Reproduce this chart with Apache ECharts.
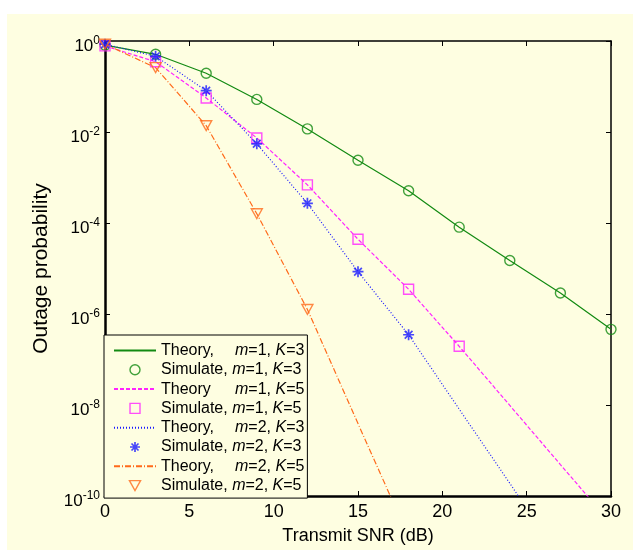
<!DOCTYPE html>
<html>
<head>
<meta charset="utf-8">
<script src="https://cdn.jsdelivr.net/npm/echarts@6/dist/echarts.min.js"></script>
<style>
  html, body { margin: 0; padding: 0; background: #ffffff; }
  #paper { position: absolute; left: 7px; top: 14px; width: 626px; height: 536px; background: #fefee1; }
  #app { position: absolute; left: 0; top: 0; width: 633px; height: 550px; }
</style>
</head>
<body>
<div id="paper"></div>
<div id="app"></div>
<script>
// SNR points (dB)
var snrSim = [0, 3, 6, 9, 12, 15, 18, 21, 24, 27, 30];

// m=1, K=3
var theoryM1K3 = [0.81, 0.51, 0.195, 0.052, 0.0117, 2.4e-3, 5.1e-4, 8.1e-5, 1.5e-5, 2.9e-6, 4.6e-7];
var simM1K3    = [0.81, 0.51, 0.195, 0.052, 0.0117, 2.4e-3, 5.1e-4, 8.1e-5, 1.5e-5, 2.9e-6, 4.6e-7];
// m=1, K=5
var theoryM1K5 = [0.78, 0.35, 0.056, 7.4e-3, 6.9e-4, 4.4e-5, 3.5e-6, 1.95e-7, 9.8e-9, 4.9e-10, 2.5e-11];
var simM1K5    = [0.78, 0.35, 0.056, 7.4e-3, 6.9e-4, 4.4e-5, 3.5e-6, 1.95e-7];
// m=2, K=3
var theoryM2K3 = [0.85, 0.46, 0.081, 5.5e-3, 2.7e-4, 8.5e-6, 3.5e-7, 8.1e-9, 1.9e-10, 4e-12];
var simM2K3    = [0.85, 0.46, 0.081, 5.5e-3, 2.7e-4, 8.5e-6, 3.5e-7];
// m=2, K=5
var theoryM2K5 = [0.85, 0.26, 0.0138, 1.6e-4, 1.26e-6, 3.9e-9, 1.26e-11];
var simM2K5    = [0.85, 0.26, 0.0138, 1.6e-4, 1.26e-6];

var xTicks = [0, 5, 10, 15, 20, 25, 30];

var GREEN = '#128a12', MAGENTA = '#ff22ff', BLUE = '#1a1aff', ORANGE = '#ff6a1a';
var FONT = 'Liberation Sans, Arial, sans-serif';

var ICON_CIRCLE = 'path://M10,5A5,5,0,1,1,0,5A5,5,0,1,1,10,5Z';
var ICON_SQUARE = 'path://M0,0L10,0L10,10L0,10Z';
var ICON_TRI = 'path://M0,0L10,0L5,9Z';
var ICON_STAR = 'path://M5,0L5,10M0,5L10,5M1.5,1.5L8.5,8.5M1.5,8.5L8.5,1.5';

function pairs(xs, ys) {
    return ys.map(function (v, i) { return [xs[i], v]; });
}

var legendText = {
    't13': '{a|Theory,}{i|m}=1, {i|K}=3',
    's13': 'Simulate, {i|m}=1, {i|K}=3',
    't15': '{a|Theory}{i|m}=1, {i|K}=5',
    's15': 'Simulate, {i|m}=1, {i|K}=5',
    't23': '{a|Theory,}{i|m}=2, {i|K}=3',
    's23': 'Simulate, {i|m}=2, {i|K}=3',
    't25': '{a|Theory,}{i|m}=2, {i|K}=5',
    's25': 'Simulate, {i|m}=2, {i|K}=5'
};

function theory(name, data, color, type) {
    return {
        name: name, type: 'line', data: pairs(snrSim, data),
        symbol: 'none', clip: true, z: 2,
        lineStyle: { color: color, width: 1.2, type: type },
        itemStyle: { color: color }
    };
}
function sim(name, data, color, icon, size, bw) {
    return {
        name: name, type: 'scatter', data: pairs(snrSim, data),
        symbol: icon, symbolSize: size, symbolKeepAspect: true, z: 3,
        itemStyle: { color: 'transparent', borderColor: color, borderWidth: bw }
    };
}
function simLegend(name, color, icon, bw) {
    return { name: name, icon: icon,
        itemStyle: { color: 'transparent', borderColor: color, borderWidth: bw } };
}
// theory entries: line only, hide the default legend dot
function theoryLegend(name) {
    return { name: name,
        itemStyle: { color: 'transparent', borderColor: 'transparent', borderWidth: 0 } };
}

var chart = echarts.init(document.getElementById('app'));
var yLabelRich = {
    b: { fontSize: 17, fontFamily: FONT, color: '#000', lineHeight: 17 },
    s: { fontSize: 12, fontFamily: FONT, color: '#000', lineHeight: 12, padding: [0, 0, 12, 0] }
};

chart.setOption({
    backgroundColor: 'transparent',
    animation: false,
    textStyle: { fontFamily: FONT },
    grid: { left: 105, right: 22, top: 41, bottom: 53 },
    legend: {
        orient: 'vertical', left: 104, top: 335,
        padding: [6, 3, 3, 9],
        itemWidth: 42, itemHeight: 10, itemGap: 0.3,
        borderColor: '#000', borderWidth: 1, backgroundColor: '#fefee1',
        selectedMode: false,
        data: [
            theoryLegend('t13'), simLegend('s13', GREEN, ICON_CIRCLE, 1.4),
            theoryLegend('t15'), simLegend('s15', MAGENTA, ICON_SQUARE, 1.4),
            theoryLegend('t23'), simLegend('s23', BLUE, ICON_STAR, 1.7),
            theoryLegend('t25'), simLegend('s25', ORANGE, ICON_TRI, 1.4)
        ],
        formatter: function (name) { return legendText[name]; },
        textStyle: {
            fontSize: 16, fontFamily: FONT, color: '#000', lineHeight: 19,
            rich: {
                a: { fontSize: 16, fontFamily: FONT, color: '#000', width: 74 },
                i: { fontSize: 16, fontFamily: FONT, color: '#000', fontStyle: 'italic' }
            }
        }
    },
    xAxis: [{
        type: 'value', min: 0, max: 30, interval: 5,
        name: 'Transmit SNR (dB)', nameLocation: 'middle', nameGap: 31,
        nameTextStyle: { fontSize: 18, fontFamily: FONT, color: '#000' },
        axisLine: { show: true, onZero: false, lineStyle: { color: '#000', width: 2.5 } },
        axisTick: { inside: true, length: 5, lineStyle: { color: '#000', width: 1 } },
        axisLabel: { fontSize: 18, color: '#000', margin: 7,
            formatter: function (v) { return xTicks.indexOf(v) >= 0 ? String(v) : ''; } },
        splitLine: { show: false }
    }, {
        type: 'value', min: 0, max: 30, interval: 5, position: 'top',
        axisLine: { show: true, onZero: false, lineStyle: { color: '#000', width: 1.5 } },
        axisTick: { inside: true, length: 5, lineStyle: { color: '#000', width: 1 } },
        axisLabel: { show: false }, splitLine: { show: false }
    }],
    yAxis: [{
        type: 'log', logBase: 10, min: 1e-10, max: 1, interval: 2,
        name: 'Outage probability', nameLocation: 'middle', nameGap: 53,
        nameTextStyle: { fontSize: 21, fontFamily: FONT, color: '#000' },
        axisLine: { show: true, onZero: false, lineStyle: { color: '#000', width: 2.5 } },
        axisTick: { inside: true, length: 5, lineStyle: { color: '#000', width: 1 } },
        axisLabel: {
            margin: 5, padding: [11, 0, 0, 0],
            formatter: function (v) {
                var e = Math.round(Math.log10(v));
                return '{b|10}{s|' + e + '}';
            },
            rich: yLabelRich
        },
        splitLine: { show: false }
    }, {
        type: 'log', logBase: 10, min: 1e-10, max: 1, interval: 2, position: 'right',
        axisLine: { show: true, onZero: false, lineStyle: { color: '#000', width: 1.5 } },
        axisTick: { inside: true, length: 5, lineStyle: { color: '#000', width: 1 } },
        axisLabel: { show: false }, splitLine: { show: false }
    }],
    series: [
        theory('t13', theoryM1K3, GREEN, 'solid'),
        sim('s13', simM1K3, GREEN, ICON_CIRCLE, 10, 1.4),
        theory('t15', theoryM1K5, MAGENTA, [4, 2]),
        sim('s15', simM1K5, MAGENTA, ICON_SQUARE, 10, 1.4),
        theory('t23', theoryM2K3, BLUE, [1, 2]),
        sim('s23', simM2K3, BLUE, ICON_STAR, 11, 1.7),
        theory('t25', theoryM2K5, ORANGE, [6, 2, 1, 2]),
        sim('s25', simM2K5, ORANGE, ICON_TRI, 11, 1.4)
    ]
});
</script>
</body>
</html>
